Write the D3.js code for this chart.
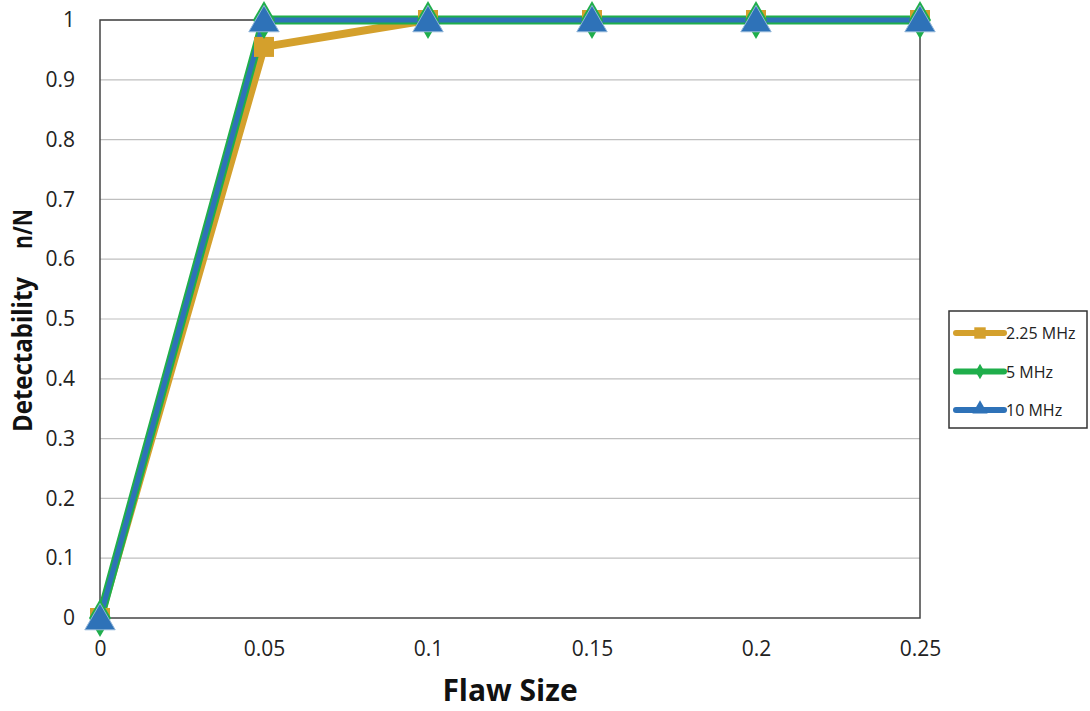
<!DOCTYPE html>
<html>
<head>
<meta charset="utf-8">
<script src="https://cdn.jsdelivr.net/npm/d3@7"></script>
<style>
  html, body { margin: 0; padding: 0; background: #fff; }
  svg { display: block; font-family: "Open Sans", "Liberation Sans", sans-serif; }
</style>
</head>
<body>
<svg id="chart" width="1090" height="711"></svg>
<script>
// Flaw size vs. detectability for three probe frequencies
const flawSizes = [0, 0.05, 0.1, 0.15, 0.2, 0.25];
const seriesNames = ["2.25 MHz", "5 MHz", "10 MHz"];
const det225 = [0, 0.955, 1, 1, 1, 1];
const det5 = [0, 1, 1, 1, 1, 1];
const det10 = [0, 1, 1, 1, 1, 1];
const yTicks = [0, 0.1, 0.2, 0.3, 0.4, 0.5, 0.6, 0.7, 0.8, 0.9, 1];
const xTicks = [0, 0.05, 0.1, 0.15, 0.2, 0.25];

const svg = d3.select("#chart");
const plot = { left: 100, top: 20, right: 920, bottom: 618 };

const x = d3.scaleLinear().domain([0, 0.25]).range([plot.left, plot.right]);
const y = d3.scaleLinear().domain([0, 1]).range([plot.bottom, plot.top]);

// horizontal gridlines
svg.append("g").selectAll("line").data(yTicks.slice(1)).join("line")
  .attr("x1", plot.left).attr("x2", plot.right)
  .attr("y1", d => y(d)).attr("y2", d => y(d))
  .attr("stroke", "#bfbfbf").attr("stroke-width", 1.2);

// plot frame
svg.append("rect")
  .attr("x", plot.left).attr("y", plot.top)
  .attr("width", plot.right - plot.left).attr("height", plot.bottom - plot.top)
  .attr("fill", "none").attr("stroke", "#444").attr("stroke-width", 1.5);

// axes (labels only, frame drawn above)
const yAxis = d3.axisLeft(y).tickValues(yTicks).tickSize(0).tickPadding(25)
  .tickFormat(d => d3.format("")(+d.toFixed(1)));
svg.append("g").attr("transform", `translate(${plot.left},0)`).call(yAxis)
  .call(g => g.select(".domain").remove())
  .selectAll("text").attr("font-size", 21).attr("fill", "#222")
  .attr("font-family", "'Open Sans', sans-serif");

const xAxis = d3.axisBottom(x).tickValues(xTicks).tickSize(0).tickPadding(23)
  .tickFormat(d => d3.format("")(+d.toFixed(2)));
svg.append("g").attr("transform", `translate(0,${plot.bottom})`).call(xAxis)
  .call(g => g.select(".domain").remove())
  .selectAll("text").attr("font-size", 21).attr("fill", "#222")
  .attr("font-family", "'Open Sans', sans-serif");

// axis titles
svg.append("text")
  .attr("x", 510).attr("y", 701)
  .attr("text-anchor", "middle")
  .attr("font-size", 30).attr("font-weight", "bold").attr("fill", "#111")
  .text("Flaw Size");

svg.append("text")
  .attr("transform", "translate(32,432) rotate(-90)")
  .attr("text-anchor", "start")
  .attr("font-size", 26).attr("font-weight", "bold").attr("fill", "#111")
  .attr("textLength", 155).attr("lengthAdjust", "spacingAndGlyphs")
  .text("Detectability");

svg.append("text")
  .attr("transform", "translate(32,249) rotate(-90)")
  .attr("text-anchor", "start")
  .attr("font-size", 26).attr("font-weight", "bold").attr("fill", "#111")
  .attr("textLength", 40).attr("lengthAdjust", "spacingAndGlyphs")
  .text("n/N");

// series styling
const series = [
  { name: seriesNames[0], values: det225, color: "#D4A02C", width: 8, marker: "square", size: 400 },
  { name: seriesNames[1], values: det5, color: "#1FAE4B", width: 9, marker: "diamond", size: 420 },
  { name: seriesNames[2], values: det10, color: "#2E72B8", width: 5, marker: "triangle", size: 400 }
];

const symbolType = { square: d3.symbolSquare, diamond: d3.symbolDiamond, triangle: d3.symbolTriangle };

const line = d3.line().x((d, i) => x(flawSizes[i])).y(d => y(d));

const seriesG = svg.append("g");
series.forEach(s => {
  seriesG.append("path")
    .datum(s.values)
    .attr("d", line)
    .attr("fill", "none")
    .attr("stroke", s.color)
    .attr("stroke-width", s.width)
    .attr("stroke-linejoin", "round");
});
series.forEach(s => {
  seriesG.append("g").selectAll("path").data(s.values).join("path")
    .attr("transform", (d, i) => `translate(${x(flawSizes[i])},${y(d) + (s.marker === "triangle" ? 3 : 0)})`)
    .attr("d", d3.symbol().type(symbolType[s.marker]).size(s.size))
    .attr("fill", s.color)
    .attr("stroke", s.marker === "triangle" ? "#8fb4d8" : "none")
    .attr("stroke-width", 1);
});

// legend
const legend = svg.append("g");
legend.append("rect")
  .attr("x", 949).attr("y", 311).attr("width", 138).attr("height", 117)
  .attr("fill", "#fff").attr("stroke", "#333").attr("stroke-width", 1.5);

const legendSizes = { square: 130, diamond: 70, triangle: 100 };
series.forEach((s, i) => {
  const cy = 333 + i * 38.5;
  legend.append("line")
    .attr("x1", 956).attr("x2", 1004).attr("y1", cy).attr("y2", cy)
    .attr("stroke", s.color).attr("stroke-width", 6).attr("stroke-linecap", "round");
  legend.append("path")
    .attr("transform", `translate(980,${cy + (s.marker === "triangle" ? -1 : 0)})`)
    .attr("d", d3.symbol().type(symbolType[s.marker]).size(legendSizes[s.marker]))
    .attr("fill", s.color);
  legend.append("text")
    .attr("x", 1006).attr("y", cy + 6)
    .attr("font-size", 16).attr("fill", "#222")
    .text(s.name);
});
</script>
</body>
</html>
